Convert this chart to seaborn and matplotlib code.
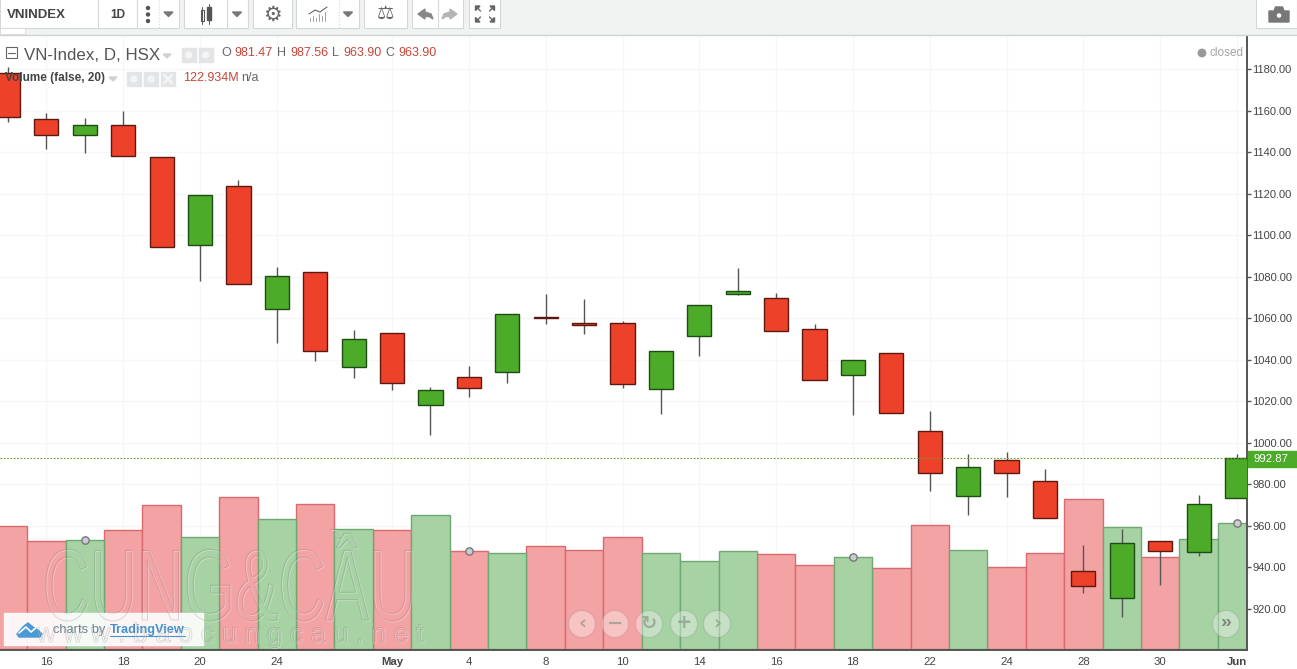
import pandas as pd
import numpy as np
import seaborn as sns
import matplotlib.pyplot as plt
import matplotlib.patheffects as pe
from matplotlib.patches import Rectangle, Circle, Polygon
from matplotlib.transforms import Affine2D

# candle data (13 Apr - 1 Jun)
dates = ["04-13", "04-16", "04-17", "04-18", "04-19", "04-20", "04-23", "04-24", "04-25", "04-26", "05-02",
         "05-03", "05-04", "05-07", "05-08", "05-09", "05-10", "05-11", "05-14", "05-15", "05-16", "05-17",
         "05-18", "05-21", "05-22", "05-23", "05-24", "05-25", "05-28", "05-29", "05-30", "05-31", "06-01"]
opens = [1178.1, 1155.9, 1148.2, 1153.0, 1137.6, 1095.3, 1123.7, 1064.4, 1082.3, 1036.5, 1052.9,
         1018.2, 1031.7, 1034.1, 1060.6, 1057.7, 1057.7, 1025.9, 1051.5, 1071.7, 1069.7, 1054.8,
         1032.7, 1043.3, 1005.7, 974.4, 991.7, 981.47, 938.3, 925.3, 952.8, 947.5, 973.4]
closes = [1156.9, 1148.2, 1153.0, 1138.1, 1094.3, 1119.3, 1076.5, 1080.3, 1044.2, 1050.0, 1028.8,
          1025.5, 1026.4, 1062.0, 1060.1, 1056.7, 1028.3, 1044.2, 1066.4, 1073.1, 1053.9, 1030.3,
          1039.9, 1014.4, 985.5, 988.4, 985.5, 963.90, 931.1, 951.8, 948.0, 970.6, 992.87]
highs = [1181.0, 1158.8, 1156.4, 1159.8, 1137.6, 1119.3, 1126.6, 1084.7, 1082.3, 1054.3, 1052.9,
         1026.9, 1037.0, 1062.0, 1071.7, 1069.3, 1058.7, 1044.2, 1066.4, 1084.2, 1072.2, 1057.2,
         1039.9, 1043.3, 1015.3, 994.6, 995.6, 987.56, 950.8, 958.5, 952.8, 974.9, 994.6]
lows = [1154.5, 1141.5, 1139.6, 1138.1, 1094.3, 1077.9, 1076.5, 1048.1, 1039.4, 1031.2, 1025.5,
        1003.8, 1022.1, 1028.8, 1057.2, 1052.4, 1026.4, 1013.9, 1041.8, 1071.2, 1053.9, 1030.3,
        1013.4, 1014.4, 976.8, 965.3, 973.9, 963.90, 927.7, 916.2, 931.6, 945.5, 973.4]
volumes = [120.0, 105.4, 106.4, 116.1, 140.5, 109.3, 148.4, 126.9, 141.5, 117.1, 116.1,
           130.8, 95.6, 93.7, 100.5, 96.6, 109.3, 93.7, 85.9, 95.6, 92.7, 82.0,
           89.8, 79.1, 121.0, 96.6, 80.0, 93.7, 146.4, 119.1, 89.8, 107.4, 122.934]

tick_days = [1, 3, 5, 7, 10, 12, 14, 16, 18, 20, 22, 24, 26, 28, 30, 32]
tick_names = ["16", "18", "20", "24", "May", "4", "8", "10", "14", "16", "18", "22", "24", "28", "30", "Jun"]
price_ticks = [920, 940, 960, 980, 1000, 1020, 1040, 1060, 1080, 1100, 1120, 1140, 1160, 1180]
last_price = 992.87
marker_days = [2, 12, 22, 32]

RED, GREEN = "#ee4129", "#4dab2a"
TEXT_RED = "#c8453a"
GRID = "#f6f7f7"

df = pd.DataFrame({"date": dates, "open": opens, "close": closes, "high": highs, "low": lows, "volume": volumes})
df["direction"] = np.where(df["close"] >= df["open"], "up", "down")
df["pos"] = range(len(df))


class EmbossTall(pe.AbstractPathEffect):
    # thin embossed outline, stretched upward from the baseline (watermark letters are tall)
    def __init__(self, base, stretch, lw):
        super().__init__()
        self.base, self.stretch, self.lw = base, stretch, lw

    def draw_path(self, renderer, gc, tpath, affine, rgbFace=None):
        tall = affine + Affine2D().translate(0, -self.base).scale(1, self.stretch).translate(0, self.base)
        for dx, col in [(1, (1, 1, 1, 0.3)), (0, (0.42, 0.42, 0.42, 0.24))]:
            g = renderer.new_gc()
            g.copy_properties(gc)
            g.set_linewidth(self.lw)
            g.set_foreground(col)
            renderer.draw_path(g, tpath, tall + Affine2D().translate(dx, -dx), None)
            g.restore()


sns.set_theme(style="white")
plt.rcParams["font.family"] = ["Liberation Sans", "DejaVu Sans"]

W, H = 1297, 669
fig = plt.figure(figsize=(W / 100, H / 100), dpi=100, facecolor="white")
ax = fig.add_axes([0, 1 - 650 / H, 1247 / W, 615 / H])

# volume bars at the bottom
sns.barplot(data=df, x="date", y="volume", hue="direction", hue_order=["down", "up"],
            palette={"down": "#f4a3a4", "up": "#a6d2a4"}, dodge=False, width=1, saturation=1,
            legend=False, ax=ax, zorder=2)
for cont, edge in zip(ax.containers, ["#d9686f", "#6fa873"]):
    for bar in cont:
        bar.set_edgecolor(edge)
        bar.set_linewidth(1)
ax.set_ylim(-1, 599.2)
ax.set_xlim(-0.208, 32.26)
ax.set_xlabel("")
ax.set_ylabel("")
ax.set_yticks([])
ax.set_xticks(tick_days)
ax.set_xticklabels(tick_names)
ax.tick_params(axis="x", length=3, width=1, color="#555555", labelcolor="#444444", labelsize=8.2, pad=2)
ax.get_xticklabels()[4].set_fontweight("bold")
ax.get_xticklabels()[-1].set_fontweight("bold")
for x in tick_days:
    ax.axvline(x, color=GRID, lw=1, zorder=1)

# candles on their own price scale
ax2 = ax.twinx()
ax2.set_zorder(ax.get_zorder() + 1)
ax2.patch.set_visible(False)
ax2.vlines(df["pos"], df["low"], df["high"], color="#555555", lw=1, zorder=3)
for direction, color, edge in [("down", RED, "#5a1a10"), ("up", GREEN, "#1d4d12")]:
    sub = df[df["direction"] == direction]
    ax2.bar(sub["pos"], (sub["close"] - sub["open"]).abs(), bottom=sub[["open", "close"]].min(axis=1),
            width=0.63, color=color, edgecolor=edge, linewidth=1, zorder=4)
ax2.set_xlim(-0.208, 32.26)
ax2.set_ylim(900.27, 1196.37)
ax2.set_yticks(price_ticks)
ax2.set_yticklabels([f"{p:.2f}" for p in price_ticks])
ax2.tick_params(axis="y", length=3, width=1, color="#555555", labelcolor="#444444", labelsize=8, pad=1)
for p in price_ticks:
    ax.axhline(-1 + (p - 900.27) / (1196.37 - 900.27) * 600.2, color=GRID, lw=1, zorder=1)
ax2.axhline(last_price, color="#6f9a35", lw=0.8, ls=(0, (1.5, 1.5)), zorder=5)

for a in (ax, ax2):
    a.spines["left"].set_visible(False)
    a.spines["top"].set_visible(False)
    a.spines["right"].set_color("#555555")
    a.spines["bottom"].set_color("#555555")
    a.spines["right"].set_linewidth(1.2)
    a.spines["bottom"].set_linewidth(1.2)

# grey event dots sit on top of the volume bars
ax.scatter(marker_days, df["volume"].iloc[marker_days], s=28, color="#c9cbcc", edgecolor="#777777",
           linewidth=1, zorder=6, clip_on=False)

# everything else (toolbar, legends, buttons) goes on a pixel overlay
ov = fig.add_axes([0, 0, 1, 1], facecolor="none", zorder=5)
ov.set_xlim(0, W)
ov.set_ylim(H, 0)
ov.axis("off")

# toolbar
ICON = "#666666"
ov.add_patch(Rectangle((0, 0), W, 34, color="#f1f3f3", zorder=1))
ov.plot([0, W], [34.5, 34.5], color="#cfd2d4", lw=1, zorder=2)
for x0, x1 in [(0, 98), (98, 137), (137, 179), (184, 248), (253, 292), (296, 359), (364, 407), (412, 463), (469, 500), (1256, 1297)]:
    ov.add_patch(Rectangle((x0, -2), x1 - x0, 30, facecolor="white", edgecolor="#d5d8da", lw=0.8, zorder=2))
for x in [227, 438]:
    ov.plot([x, x], [0, 28], color="#d5d8da", lw=0.8, zorder=3)
for x in [158.5, 338.5]:
    ov.plot([x, x], [0, 28], color="#d5d8da", lw=0.8, ls=":", zorder=3)
ov.add_patch(Rectangle((0, 28), 25, 6, facecolor="white", edgecolor="#d5d8da", lw=0.6, zorder=2))
ov.text(7, 14.5, "VNINDEX", fontsize=9.5, fontweight="bold", color="#444444", va="center", zorder=3)
ov.text(118, 14.5, "1D", fontsize=8.5, fontweight="bold", color="#444444", va="center", ha="center", zorder=3)
for yy in [8, 14.5, 21]:
    ov.add_patch(Circle((148, yy), 1.5, color="#555555", zorder=3))
for x in [168.5, 237, 348]:
    ov.add_patch(Polygon([[x - 4.5, 12], [x + 4.5, 12], [x, 16.5]], color="#777777", zorder=3))
ov.add_patch(Rectangle((200.5, 10), 3.5, 11, facecolor="white", edgecolor="#555555", lw=0.8, zorder=3))
ov.add_patch(Rectangle((207, 7), 4, 13, color="#555555", zorder=3))
ov.plot([202, 202], [7, 24], color="#555555", lw=0.7, zorder=3)
ov.plot([209, 209], [4, 24], color="#555555", lw=0.7, zorder=3)
ov.text(272.5, 14.5, "\u2699", fontsize=15, color=ICON, ha="center", va="center", family="DejaVu Sans", zorder=3)
ov.bar([310, 313, 316, 319, 322, 325], [-5, -7, -5, -9, -7, -11], bottom=22, width=1.6, color=ICON, zorder=3)
ov.plot([309, 315, 320, 327], [14, 10, 12, 7], color=ICON, lw=0.8, zorder=3)
ov.text(385.5, 14.5, "\u2696", fontsize=14, color=ICON, ha="center", va="center", family="DejaVu Sans", zorder=3)
undo = [[418, 14], [425, 9], [425, 12], [431, 14], [433, 19], [429, 16.5], [425, 16.5], [425, 19]]
ov.add_patch(Polygon(undo, color="#888888", zorder=3))
ov.add_patch(Polygon([[875 - x, y] for x, y in undo], color="#b5b5b5", zorder=3))
for sx, sy in [(-1, -1), (1, -1), (-1, 1), (1, 1)]:
    cx, cy = 485 + sx * 7.5, 14 + sy * 6
    ov.add_patch(Polygon([[cx + sx * 2, cy + sy * 2], [cx - sx * 2.5, cy + sy * 2], [cx + sx * 2, cy - sy * 2.5]], color=ICON, zorder=3))
    ov.plot([cx, cx - sx * 3], [cy, cy - sy * 3], color=ICON, lw=1, zorder=3)
ov.add_patch(Polygon([[1269, 11], [1274, 11], [1275.5, 7], [1282.5, 7], [1284, 11], [1289, 11], [1289, 22], [1269, 22]], color="#777777", zorder=3))
ov.add_patch(Circle((1279, 15.5), 3, facecolor="white", edgecolor="#777777", zorder=4))

# legend rows
ov.add_patch(Rectangle((5.5, 47), 11, 11, facecolor="white", edgecolor="#666666", lw=0.8, zorder=3))
ov.plot([7.5, 14.5], [52.5, 52.5], color="#666666", lw=0.8, zorder=4)
ov.text(24, 55.5, "VN-Index, D, HSX", fontsize=12.2, color="#555555", va="center", zorder=3)
ov.add_patch(Polygon([[163, 54], [171, 54], [167, 58]], color="#d0d0d0", zorder=3))
for x in [182, 199]:
    ov.add_patch(Rectangle((x, 48), 13.5, 14, color="#e3e4e5", zorder=3))
    ov.add_patch(Circle((x + 6.7, 55), 3, color="#f4f4f4", zorder=4))
ov.text(221, 52.5, "O", fontsize=9, color="#666666", va="center", zorder=3)
ov.text(234.5, 52.5, "981.47", fontsize=9, color=TEXT_RED, va="center", zorder=3)
ov.text(277, 52.5, "H", fontsize=9, color="#666666", va="center", zorder=3)
ov.text(290, 52.5, "987.56", fontsize=9, color=TEXT_RED, va="center", zorder=3)
ov.text(332, 52.5, "L", fontsize=9, color="#666666", va="center", zorder=3)
ov.text(343.5, 52.5, "963.90", fontsize=9, color=TEXT_RED, va="center", zorder=3)
ov.text(385, 52.5, "C", fontsize=9, color="#666666", va="center", zorder=3)
ov.text(398.5, 52.5, "963.90", fontsize=9, color=TEXT_RED, va="center", zorder=3)
ov.text(5, 78.5, "Volume (false, 20)", fontsize=8.5, fontweight="bold", color="#444444", va="center", zorder=3)
ov.add_patch(Polygon([[109, 77], [117, 77], [113, 81]], color="#d0d0d0", zorder=3))
for x in [127, 144, 161]:
    ov.add_patch(Rectangle((x, 72), 14, 14, color="#e3e4e5", zorder=3))
for x in [127, 144]:
    ov.add_patch(Circle((x + 7, 79), 3, color="#f4f4f4", zorder=4))
ov.plot([164, 172], [75, 83], color="#f7f7f7", lw=1.5, zorder=4)
ov.plot([164, 172], [83, 75], color="#f7f7f7", lw=1.5, zorder=4)
ov.text(183, 78, "122.934M", fontsize=9, color=TEXT_RED, va="center", zorder=3)
ov.text(241.5, 78, "n/a", fontsize=9, color="#666666", va="center", zorder=3)

# market status
ov.add_patch(Circle((1202, 53), 3.7, color="#999999", zorder=3))
ov.text(1210, 52.5, "closed", fontsize=8.5, color="#a5a5a5", va="center", zorder=3)

# last price tag
ov.add_patch(Rectangle((1248, 451), 49, 16, color=GREEN, zorder=3))
ov.text(1253, 459, f"{last_price:.2f}", fontsize=8.2, color="white", va="center", zorder=4)

# tradingview badge
ov.add_patch(Rectangle((4, 613), 199, 32, color="white", alpha=0.9, zorder=4))
ov.add_patch(Polygon([[17, 634], [24, 626], [28, 623], [33, 627], [38, 630], [42, 634], [40, 637], [19, 637]], color="#4a9ad8", zorder=5))
ov.plot([19, 26, 31, 38], [633, 627, 632, 626], color="white", lw=1.2, zorder=6)
ov.text(53, 630, "charts by", fontsize=9.3, color="#6a7f92", va="center", zorder=5)
ov.text(110, 630, "TradingView", fontsize=9.2, fontweight="bold", color="#3f93cf", va="center", zorder=5)
ov.plot([110, 185], [635.5, 635.5], color="#3f93cf", lw=0.8, zorder=5)

# watermark
ov.text(229, 620, "CUNG&C\u1ea6U", fontsize=47, color=(1, 1, 1, 0.06), ha="center", va="baseline", zorder=7,
        path_effects=[EmbossTall(49, 1.55, 0.7)])
ov.text(230, 642, "w w w . b a o c u n g c a u . n e t", fontsize=19.5, color=(1, 1, 1, 0.06), ha="center", va="baseline", zorder=7,
        path_effects=[EmbossTall(27, 1.0, 0.6)])

# navigation buttons
for x, s in zip([582, 615, 649, 684, 717], ["\u2039", "\u2212", "\u21bb", "+", "\u203a"]):
    ov.add_patch(Circle((x, 624), 13.5, facecolor=(1, 1, 1, 0.35), edgecolor=(0.5, 0.5, 0.5, 0.25), lw=0.8, zorder=3))
    ov.text(x, 623, s, fontsize=14, color="#8f9a8f", alpha=0.75, ha="center", va="center", fontweight="bold", family="DejaVu Sans", zorder=4)
ov.add_patch(Circle((1226, 624), 13.5, facecolor=(1, 1, 1, 0.35), edgecolor=(0.5, 0.5, 0.5, 0.25), lw=0.8, zorder=3))
ov.text(1226, 623, "\u00bb", fontsize=14, color="#808a80", ha="center", va="center", fontweight="bold", zorder=4)

plt.savefig("out.png", dpi=100)
